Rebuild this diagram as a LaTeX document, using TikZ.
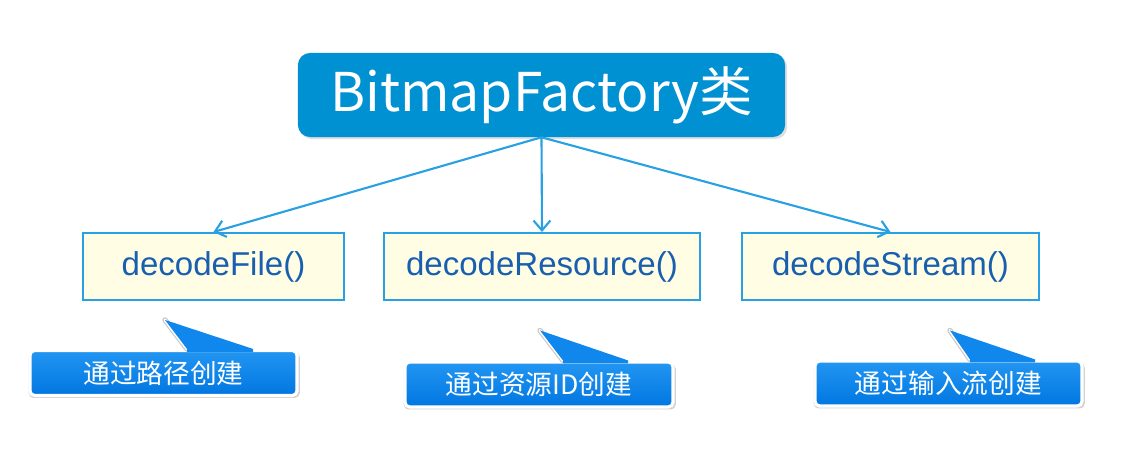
\documentclass[tikz,border=0pt]{standalone}
\usepackage{fontspec}
\setmainfont{Liberation Sans}
\newfontfamily\cjk{Noto Sans CJK SC}
\usepackage{xcolor}
\usetikzlibrary{arrows.meta,shadows,calc}

\definecolor{classblue}{RGB}{0,145,210}
\definecolor{lineblue}{RGB}{40,160,228}
\definecolor{boxyellow}{RGB}{255,253,228}
\definecolor{textblue}{RGB}{25,95,175}
\definecolor{tiptop}{RGB}{35,150,242}
\definecolor{tipbottom}{RGB}{0,118,225}
\definecolor{tipfill}{RGB}{15,135,236}

\begin{document}
\begin{tikzpicture}[x=0.025cm,y=-0.025cm,
    classbox/.style={
        fill=classblue,
        rounded corners=0.3cm,
        minimum width=12.175cm, minimum height=2.1cm,
        text=white, font=\cjk\fontsize{38}{46}\selectfont,
        drop shadow={opacity=0.25, shadow xshift=1.5pt, shadow yshift=-1.5pt}
    },
    methodbox/.style={
        draw=lineblue, line width=1.4pt, fill=boxyellow,
        minimum height=1.675cm,
        text=textblue, font=\fontsize{23.5}{28}\selectfont
    },
    tipbox/.style={
        draw=white, line width=2.2pt,
        top color=tiptop, bottom color=tipbottom,
        rounded corners=0.12cm,
        minimum height=1.125cm,
        text=white, font=\cjk\fontsize{19}{23}\selectfont,
        drop shadow={opacity=0.35, shadow xshift=0.5pt, shadow yshift=-1.5pt, shadow scale=1.015}
    },
    tipedge/.style={line width=2.2pt, line cap=round, white},
    tipedgeshade/.style={line width=3.8pt, line cap=round, black!22},
    link/.style={
        draw=lineblue, line width=1.5pt,
        -{Straight Barb[length=7pt,width=12pt,line width=1.5pt]}
    }
]
    \useasboundingbox[fill=white] (0,0) rectangle (1147,471);

    \node[classbox] (factory) at (541.5,95) {BitmapFactory类};

    \node[methodbox, minimum width=6.525cm] (file) at (213.5,266.5) {decodeFile()};
    \node[methodbox, minimum width=7.9cm] (res) at (542,266.5) {decodeResource()};
    \node[methodbox, minimum width=7.425cm] (stream) at (890.5,266.5) {decodeStream()};

    \draw[link] (factory.south) -- (file.north);
    \draw[link] (factory.south) -- (res.north);
    \draw[link] (factory.south) -- (stream.north);

    \node[tipbox, minimum width=6.675cm] (viapath) at (163.5,373) {通过路径创建};
    \coordinate (viapathtip) at ($(viapath.north)+(1.5,-29)$);
    \draw[tipedgeshade] ($(viapath.north)+(23.5,0)$) -- (viapathtip);
    \draw[tipedge] ($(viapath.north)+(23.5,0)$) -- (viapathtip);
    \fill[tipfill]
        ($(viapath.north)+(23.5,3)$) -- ($(viapath.north)+(23.5,0)$) -- (viapathtip)
        -- ($(viapath.north)+(89.5,0)$) -- ($(viapath.north)+(89.5,3)$) -- cycle;

    \node[tipbox, minimum width=6.7cm] (viares) at (539,384.5) {通过资源ID创建};
    \coordinate (viarestip) at ($(viares.north)+(1,-30)$);
    \draw[tipedgeshade] ($(viares.north)+(24,0)$) -- (viarestip);
    \draw[tipedge] ($(viares.north)+(24,0)$) -- (viarestip);
    \fill[tipfill]
        ($(viares.north)+(24,3)$) -- ($(viares.north)+(24,0)$) -- (viarestip)
        -- ($(viares.north)+(89,0)$) -- ($(viares.north)+(89,3)$) -- cycle;

    \node[tipbox, minimum width=6.675cm] (viastream) at (948.5,383.5) {通过输入流创建};
    \coordinate (viastreamtip) at ($(viastream.north)+(1.5,-29)$);
    \draw[tipedgeshade] ($(viastream.north)+(21.5,0)$) -- (viastreamtip);
    \draw[tipedge] ($(viastream.north)+(21.5,0)$) -- (viastreamtip);
    \fill[tipfill]
        ($(viastream.north)+(21.5,3)$) -- ($(viastream.north)+(21.5,0)$) -- (viastreamtip)
        -- ($(viastream.north)+(86.5,0)$) -- ($(viastream.north)+(86.5,3)$) -- cycle;
\end{tikzpicture}
\end{document}
